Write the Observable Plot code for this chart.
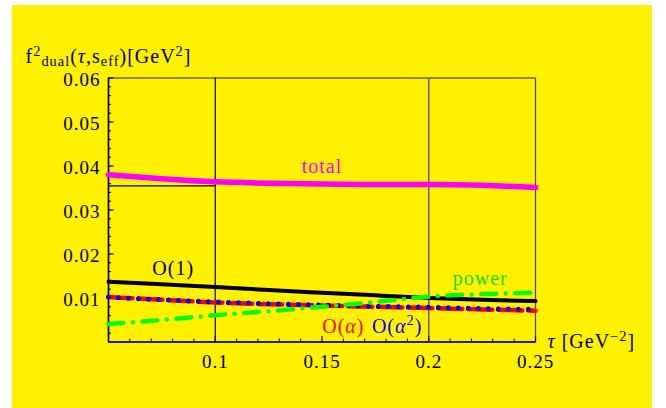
<!DOCTYPE html>
<html><head><meta charset="utf-8">
<script src="https://cdn.jsdelivr.net/npm/d3@7"></script>
<script src="https://cdn.jsdelivr.net/npm/@observablehq/plot@0.6"></script>
<style>
html,body{margin:0;padding:0;background:#fff;}
#wrap{position:relative;width:666px;height:408px;overflow:hidden;}
#bg{position:absolute;left:12px;top:5px;width:640px;height:403px;background:#FFF100;}
#chart{position:absolute;left:0;top:0;}
</style></head>
<body><div id="wrap"><div id="bg"></div><div id="chart"></div></div>
<script>
// ---- data ----
const tau      = [0.05, 0.075, 0.1, 0.125, 0.15, 0.175, 0.2, 0.225, 0.25];
const total    = [0.0380, 0.0371, 0.0364, 0.0361, 0.0359, 0.0358, 0.0358, 0.0356, 0.0351];
const order1   = [0.0137, 0.0131, 0.0125, 0.0118, 0.0112, 0.0106, 0.0100, 0.0096, 0.0093];
const orderA   = [0.0102, 0.0096, 0.0090, 0.0086, 0.0083, 0.0080, 0.0077, 0.0074, 0.0071];
const orderA2  = [0.0102, 0.0096, 0.0091, 0.0087, 0.0084, 0.0081, 0.0079, 0.0076, 0.0074];
const power    = [0.0041, 0.0050, 0.0061, 0.0070, 0.0080, 0.0091, 0.0103, 0.0109, 0.0112];
const seriesNames = ["total", "O(1)", "O(α)", "O(α²)", "power"];
const xTicks = [0.1, 0.15, 0.2, 0.25];
const yTicks = [0.01, 0.02, 0.03, 0.04, 0.05, 0.06];
const xDomain = [0.05, 0.25];
const yDomain = [0, 0.06];
const refTau = [0.1, 0.2];        // vertical reference lines
const refF = [0.0355];            // horizontal reference value at tau = 0.1
const yTitle = "f^{2}_{dual}(*{τ},s_{eff})[GeV^{2}]";
const xTitle = "*{τ} [GeV^{−2}]";

// ---- helpers ----
const rows = arr => tau.map((t, i) => ({tau: t, f: arr[i]}));
const r4 = v => Math.round(v * 10000) / 10000;
const xMinor = d3.range(5, 26).map(v => r4(v / 100)).filter(v => v > 0.05 && v < 0.25 && !xTicks.includes(v));
const yMinor = d3.range(1, 30).map(v => r4(v * 0.002)).filter(v => !yTicks.includes(v));

const W = 666, H = 408, ML = 108, MR = 131, MT = 77.5, MB = 66.5;
const PW = W - ML - MR, PH = H - MT - MB;
const font = "'Liberation Serif','Times New Roman',serif";

// annotation placement (layout only)
const labels = [
  {text: "total", x: 0.15, y: 0.0399, fill: "#ff00ff"},
  {text: "O(1)", x: 0.0803, y: 0.0166, fill: "#000000"},
  {text: "power", x: 0.2241, y: 0.0143, fill: "#11dd00"},
  {text: "O(*{α})", x: 0.160, y: 0.0036, fill: "#ff0000"},
  {text: "O(*{α}^{2})", x: 0.1852, y: 0.0036, fill: "#0000ff"}
];

const chart = Plot.plot({
  width: W, height: H,
  marginLeft: ML, marginRight: MR, marginTop: MT, marginBottom: MB,
  x: {domain: xDomain},
  y: {domain: yDomain},
  style: `background:transparent;font-family:${font};font-size:19px;letter-spacing:1px;color:#000;`,
  marks: [
    Plot.frame({stroke: "#444", strokeWidth: 1.2}),
    Plot.ruleX([xDomain[0]], {stroke: "#000", strokeWidth: 1.6}),
    Plot.ruleY([yDomain[0]], {stroke: "#000", strokeWidth: 1.6}),
    Plot.ruleX([refTau[0]], {stroke: "#000", strokeWidth: 1.2}),
    Plot.ruleX([refTau[1]], {stroke: "#666", strokeWidth: 1.6}),
    Plot.ruleY(refF, {x1: xDomain[0], x2: refTau[0], stroke: "#000", strokeWidth: 1.2}),
    // ticks (inside)
    Plot.tickY(yTicks, {y: d => d, insetRight: PW - 5.5, stroke: "#000", strokeWidth: 1.2}),
    Plot.tickY(yMinor, {y: d => d, insetRight: PW - 3, stroke: "#000", strokeWidth: 1}),
    Plot.tickX(xTicks, {x: d => d, insetTop: PH - 5.5, stroke: "#000", strokeWidth: 1.2}),
    Plot.tickX(xMinor, {x: d => d, insetTop: PH - 3, stroke: "#000", strokeWidth: 1}),
    Plot.axisY({ticks: yTicks, tickSize: 0, tickPadding: 8, tickFormat: d => String(d), label: null, fontSize: 19, dy: 1.5}),
    Plot.axisX({ticks: xTicks, tickSize: 0, tickPadding: 12, tickFormat: d => String(d), label: null, fontSize: 19}),
    // curves
    Plot.line(rows(total), {x: "tau", y: "f", stroke: "#ff00ff", strokeWidth: 5.5, curve: "natural"}),
    Plot.line(rows(order1), {x: "tau", y: "f", stroke: "#000000", strokeWidth: 4, curve: "natural"}),
    Plot.line(rows(orderA), {x: "tau", y: "f", stroke: "#ff0000", strokeWidth: 4.5, strokeDasharray: "24,6", curve: "natural"}),
    Plot.line(rows(orderA2), {x: "tau", y: "f", stroke: "#0000ff", strokeWidth: 5, strokeDasharray: "0,10", strokeLinecap: "round", curve: "natural"}),
    Plot.line(rows(power), {x: "tau", y: "f", stroke: "#00ff00", strokeWidth: 4.5, strokeDasharray: "15,9.5,0,9.5", strokeLinecap: "round", curve: "natural"}),
    // labels
    Plot.text(labels, {x: "x", y: "y", text: "text", fill: "fill", fontSize: 20}),
    // axis titles
    Plot.text([yTitle], {text: d => d, frameAnchor: "top-left", lineAnchor: "middle", textAnchor: "start", dx: -83, dy: -21.5, fontSize: 20}),
    Plot.text([xTitle], {text: d => d, frameAnchor: "bottom-right", lineAnchor: "middle", textAnchor: "start", dx: 12, dy: 0, fontSize: 20})
  ]
});
document.getElementById("chart").appendChild(chart);

// rich text: ^{sup} _{sub} *{italic}
d3.select(chart).selectAll("text").each(function () {
  const el = this;
  const s = el.textContent;
  if (!/[\^_*]\{/.test(s)) return;
  const fs = parseFloat(getComputedStyle(el).fontSize) || 20;
  while (el.firstChild) el.removeChild(el.firstChild);
  const parts = s.split(/([\^_*]\{[^}]*\})/).filter(p => p);
  let shift = 0;
  for (const p of parts) {
    const t = document.createElementNS("http://www.w3.org/2000/svg", "tspan");
    let target = 0, txt = p, small = false, ital = false;
    if (p.startsWith("^{")) { target = -0.36 * fs; txt = p.slice(2, -1); small = true; }
    else if (p.startsWith("_{")) { target = 0.16 * fs; txt = p.slice(2, -1); small = true; }
    else if (p.startsWith("*{")) { txt = p.slice(2, -1); ital = true; }
    t.setAttribute("dy", target - shift);
    shift = target;
    if (small) t.setAttribute("font-size", 0.72 * fs);
    if (ital) t.setAttribute("font-style", "italic");
    t.textContent = txt;
    el.appendChild(t);
  }
});
</script>
</body></html>
